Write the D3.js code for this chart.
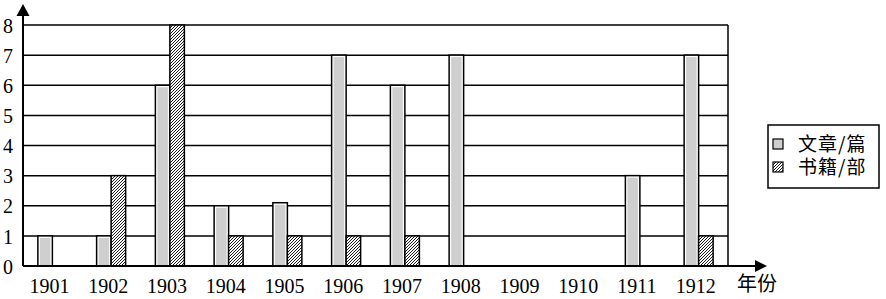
<!DOCTYPE html>
<html>
<head>
<meta charset="utf-8">
<script src="https://cdn.jsdelivr.net/npm/d3@7"></script>
<style>
  body { margin: 0; background: #fff; }
  svg { display: block; }
  .tick text { font-family: "Liberation Serif", "DejaVu Serif", serif; fill: #000; }
</style>
</head>
<body>
<div id="chart"></div>
<script>
var width = 886,
    height = 299;

// data
var years = ["1901", "1902", "1903", "1904", "1905", "1906", "1907", "1908", "1909", "1910", "1911", "1912"];
var articles = [1, 1, 6, 2, 2.1, 7, 6, 7, 0, 0, 3, 7];
var books = [0, 3, 8, 1, 1, 1, 1, 0, 0, 0, 0, 1];
var yTicks = [0, 1, 2, 3, 4, 5, 6, 7, 8];
var seriesNames = ["文章/篇", "书籍/部"];

var plotLeft = 23, plotRight = 728, plotBottom = 266, plotTop = 25;

var svg = d3.select("#chart").append("svg")
    .attr("width", width)
    .attr("height", height);

var defs = svg.append("defs");
var hatch = defs.append("pattern")
    .attr("id", "hatch")
    .attr("patternUnits", "userSpaceOnUse")
    .attr("width", 3)
    .attr("height", 3);
hatch.append("rect").attr("width", 3).attr("height", 3).attr("fill", "#fff");
hatch.append("path")
    .attr("d", "M-1,1 l2,-2 M0,3 l3,-3 M2,4 l2,-2")
    .attr("stroke", "#000")
    .attr("stroke-width", 0.9);

var x = d3.scaleBand()
    .domain(years)
    .range([plotLeft, plotRight])
    .padding(0);

var y = d3.scaleLinear()
    .domain([0, 8])
    .range([plotBottom, plotTop]);

var barW = 14.5;

// gridlines
svg.append("g").selectAll("line")
    .data(yTicks.slice(1))
  .enter().append("line")
    .attr("x1", plotLeft)
    .attr("x2", plotRight)
    .attr("y1", function(d) { return y(d); })
    .attr("y2", function(d) { return y(d); })
    .style("stroke", "#000")
    .style("stroke-width", "1.5px");

// right frame
svg.append("line")
    .attr("x1", plotRight).attr("x2", plotRight)
    .attr("y1", y(8)).attr("y2", plotBottom)
    .style("stroke", "#000")
    .style("stroke-width", "1.5px");

var artData = articles.map(function(v, i) { return {year: years[i], v: v}; })
    .filter(function(d) { return d.v > 0; });
var bookData = books.map(function(v, i) { return {year: years[i], v: v}; })
    .filter(function(d) { return d.v > 0; });

// article bars: black outline, thin white edge, grey fill
svg.append("g").selectAll("rect")
    .data(artData)
  .enter().append("rect")
    .attr("x", function(d) { return x(d.year) + x.bandwidth() / 2 - barW; })
    .attr("y", function(d) { return y(d.v); })
    .attr("width", barW)
    .attr("height", function(d) { return plotBottom - y(d.v); })
    .style("fill", "#fff")
    .style("stroke", "#000")
    .style("stroke-width", "1.5px");

svg.append("g").selectAll("rect")
    .data(artData)
  .enter().append("rect")
    .attr("x", function(d) { return x(d.year) + x.bandwidth() / 2 - barW + 2; })
    .attr("y", function(d) { return y(d.v) + 2; })
    .attr("width", barW - 4)
    .attr("height", function(d) { return plotBottom - y(d.v) - 3; })
    .style("fill", "#cfcfcf");

// book bars
svg.append("g").selectAll("rect")
    .data(bookData)
  .enter().append("rect")
    .attr("x", function(d) { return x(d.year) + x.bandwidth() / 2; })
    .attr("y", function(d) { return y(d.v); })
    .attr("width", barW)
    .attr("height", function(d) { return plotBottom - y(d.v); })
    .style("fill", "url(#hatch)")
    .style("stroke", "#000")
    .style("stroke-width", "1.5px");

// axes labels
var yAxis = d3.axisLeft(y).tickValues(yTicks).tickSize(0).tickPadding(0);
var gy = svg.append("g")
    .attr("transform", "translate(13,0)")
    .call(yAxis);
gy.select(".domain").remove();
gy.selectAll("text").style("font-size", "20px").attr("dy", "0.36em");

var xAxis = d3.axisBottom(x).tickSize(0).tickPadding(0);
var gx = svg.append("g")
    .attr("transform", "translate(-3,278)")
    .call(xAxis);
gx.select(".domain").remove();
gx.selectAll("text").style("font-size", "20px").attr("dy", "0.76em");

// axis lines with arrows
svg.append("line")
    .attr("x1", plotLeft).attr("x2", plotLeft)
    .attr("y1", plotBottom).attr("y2", 12)
    .style("stroke", "#000").style("stroke-width", "2px");
svg.append("path")
    .attr("d", "M" + plotLeft + ",4 L" + (plotLeft - 6.5) + ",16 L" + (plotLeft + 6.5) + ",16 Z")
    .style("fill", "#000");

svg.append("line")
    .attr("x1", plotLeft).attr("x2", 758)
    .attr("y1", plotBottom).attr("y2", plotBottom)
    .style("stroke", "#000").style("stroke-width", "2px");
svg.append("path")
    .attr("d", "M767," + plotBottom + " L755," + (plotBottom - 6) + " L755," + (plotBottom + 6) + " Z")
    .style("fill", "#000");

svg.append("text")
    .attr("x", 737)
    .attr("y", 291)
    .style("font-family", "'Noto Sans CJK SC', sans-serif")
    .style("font-size", "20px")
    .text("年份");

// legend
var legend = svg.append("g");
legend.append("rect")
    .attr("x", 768).attr("y", 125)
    .attr("width", 111).attr("height", 63)
    .style("fill", "#fff")
    .style("stroke", "#000")
    .style("stroke-width", "1.5px");

var items = legend.selectAll("g.item")
    .data(seriesNames)
  .enter().append("g")
    .attr("class", "item")
    .attr("transform", function(d, i) { return "translate(773," + (139 + i * 23) + ")"; });

items.append("rect")
    .attr("width", 10).attr("height", 10)
    .style("fill", function(d, i) { return i === 0 ? "#cfcfcf" : "url(#hatch)"; })
    .style("stroke", "#000")
    .style("stroke-width", "1.2px");

items.append("text")
    .attr("x", 25)
    .attr("y", 5)
    .attr("dy", "0.36em")
    .style("font-family", "'Noto Sans CJK SC', sans-serif")
    .style("font-size", "19px")
    .style("letter-spacing", "1px")
    .text(function(d) { return d; });
</script>
</body>
</html>
